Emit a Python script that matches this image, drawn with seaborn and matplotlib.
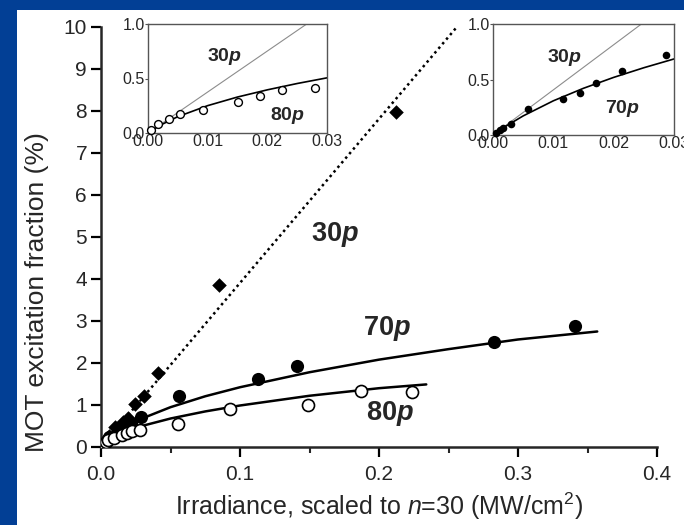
import matplotlib
matplotlib.use("Agg")
import matplotlib.pyplot as plt
import seaborn as sns
from matplotlib.patches import Rectangle
from matplotlib.ticker import MultipleLocator, FixedLocator

# =============================
# DATA
# irradiance scaled to n=30 (MW/cm^2) vs MOT excitation fraction (%)
# =============================
x_30p = [0.0055, 0.0101, 0.0155, 0.0197, 0.0245, 0.031, 0.0412, 0.0849, 0.212]
y_30p = [0.26, 0.48, 0.59, 0.68, 1.03, 1.21, 1.76, 3.86, 7.98]

x_70p = [0.00055, 0.0011, 0.0017, 0.003, 0.0058, 0.0116, 0.0144, 0.0171,
         0.0214, 0.0286, 0.0564, 0.113, 0.141, 0.283, 0.341]
y_70p = [0.02, 0.045, 0.06, 0.10, 0.23, 0.32, 0.38, 0.47,
         0.58, 0.72, 1.21, 1.63, 1.94, 2.51, 2.89]

x_80p = [0.00056, 0.0017, 0.0035, 0.0053, 0.0093, 0.015, 0.0187, 0.0225,
         0.028, 0.0556, 0.0928, 0.149, 0.187, 0.224]
y_80p = [0.03, 0.08, 0.13, 0.17, 0.21, 0.28, 0.34, 0.39,
         0.41, 0.54, 0.90, 1.00, 1.33, 1.30]

# fitted curves (traced)
line_x_30p = [0, 0.256]
line_y_30p = [0, 10]
inset_line_x_left = [0, 0.0266]
inset_line_x_right = [0, 0.0246]
inset_line_y = [0, 1.0]

fit_x_70p = [0, 0.002, 0.005, 0.01, 0.015, 0.02, 0.025, 0.03, 0.05, 0.075,
             0.1, 0.15, 0.2, 0.25, 0.3, 0.357]
fit_y_70p = [0, 0.075, 0.172, 0.308, 0.421, 0.519, 0.606, 0.685, 0.948, 1.208,
             1.423, 1.78, 2.08, 2.33, 2.56, 2.75]

fit_x_80p = [0, 0.002, 0.005, 0.01, 0.015, 0.02, 0.025, 0.03, 0.05, 0.075,
             0.1, 0.15, 0.2, 0.234]
fit_y_80p = [0, 0.070, 0.150, 0.251, 0.330, 0.396, 0.454, 0.506, 0.678, 0.847,
             0.988, 1.22, 1.40, 1.49]

x_ticks = [0.0, 0.1, 0.2, 0.3, 0.4]
x_ticklabels = ["0.0", "0.1", "0.2", "0.3", "0.4"]
y_ticks = list(range(0, 11))
inset_x_ticks = [0.0, 0.01, 0.02, 0.03]
inset_x_ticklabels = ["0.00", "0.01", "0.02", "0.03"]
inset_y_ticks = [0.0, 0.5, 1.0]
inset_y_ticklabels = ["0.0", "0.5", "1.0"]

BLUE = "#023f95"

# =============================
# STYLE
# =============================
sns.set_style("ticks")
plt.rcParams["font.family"] = ["Liberation Sans", "DejaVu Sans"]
plt.rcParams["mathtext.fontset"] = "custom"
plt.rcParams["mathtext.rm"] = "Liberation Sans"
plt.rcParams["mathtext.it"] = "Liberation Sans:italic"
plt.rcParams["mathtext.bf"] = "Liberation Sans:bold"
plt.rcParams["mathtext.bfit"] = "Liberation Sans:bold:italic"

fig = plt.figure(figsize=(6.84, 5.25), dpi=100, facecolor=BLUE)
fig.patches.append(Rectangle((17 / 684, 0), 1, 1 - 10 / 525,
                             transform=fig.transFigure, facecolor="white",
                             edgecolor="none", zorder=-5))

# =============================
# MAIN AXES
# =============================
ax = fig.add_axes([101 / 684, 78 / 525, 556 / 684, 420 / 525])
ax.set_facecolor("none")

sns.lineplot(x=line_x_30p, y=line_y_30p, ax=ax, color="black", lw=1.8,
             linestyle=(0, (1, 1.4)), estimator=None, sort=False)
sns.lineplot(x=fit_x_70p, y=fit_y_70p, ax=ax, color="black", lw=1.8,
             estimator=None, sort=False)
sns.lineplot(x=fit_x_80p, y=fit_y_80p, ax=ax, color="black", lw=1.8,
             estimator=None, sort=False)

sns.scatterplot(x=x_30p, y=y_30p, ax=ax, marker="D", s=55, color="black",
                linewidth=0, zorder=3)
sns.scatterplot(x=x_70p, y=y_70p, ax=ax, marker="o", s=90, color="black",
                linewidth=0, zorder=3)
sns.scatterplot(x=x_80p, y=y_80p, ax=ax, marker="o", s=75, color="white",
                edgecolor="black", linewidth=1.2, zorder=3)

ax.set_xlim(0, 0.4)
ax.set_ylim(0, 10)
ax.xaxis.set_major_locator(FixedLocator(x_ticks))
ax.set_xticklabels(x_ticklabels)
ax.xaxis.set_minor_locator(MultipleLocator(0.05))
ax.set_yticks(y_ticks)
sns.despine(ax=ax)
for s in ["left", "bottom"]:
    ax.spines[s].set_linewidth(1.8)
ax.tick_params(axis="both", which="major", direction="out", length=7,
               width=1.6, labelsize=15, pad=3, color="black")
ax.tick_params(axis="x", which="minor", direction="out", length=4, width=1.5)
ax.tick_params(axis="x", pad=6)

ax.set_xlabel("Irradiance, scaled to $n$=30 (MW/cm$^2$)", fontsize=18)
ax.set_ylabel("MOT excitation fraction (%)", fontsize=19)
ax.xaxis.set_label_coords(0.5, -0.104)
ax.yaxis.set_label_coords(-0.093, 0.37)

ax.text(0.168, 5.05, r"$\mathbf{30}\mathbfit{p}$", fontsize=19.5,
        ha="center", va="center")
ax.text(0.206, 2.83, r"$\mathbf{70}\mathbfit{p}$", fontsize=19.5,
        ha="center", va="center")
ax.text(0.208, 0.79, r"$\mathbf{80}\mathbfit{p}$", fontsize=19.5,
        ha="center", va="center")


# =============================
# INSETS
# =============================
def make_inset(rect, line_x, fit_x, fit_y, xs, ys, filled, lab, lab_pos,
               lab30_pos):
    a = fig.add_axes(rect)
    a.set_facecolor("white")
    sns.lineplot(x=line_x, y=inset_line_y, ax=a, color="#8c8c8c", lw=0.8,
                 estimator=None, sort=False)
    sns.lineplot(x=fit_x, y=fit_y, ax=a, color="black", lw=1.2,
                 estimator=None, sort=False)
    if filled:
        sns.scatterplot(x=xs, y=ys, ax=a, marker="o", s=30, color="black",
                        linewidth=0, zorder=3, clip_on=False)
    else:
        sns.scatterplot(x=xs, y=ys, ax=a, marker="o", s=32, color="white",
                        edgecolor="black", linewidth=1.0, zorder=3,
                        clip_on=False)
    a.set_xlim(0, 0.03)
    a.set_ylim(0, 1.0)
    a.set_xticks(inset_x_ticks)
    a.set_xticklabels(inset_x_ticklabels)
    a.set_yticks(inset_y_ticks)
    a.set_yticklabels(inset_y_ticklabels)
    for s in a.spines.values():
        s.set_color("#555555")
        s.set_linewidth(1.0)
    a.tick_params(axis="y", direction="out", length=2.5, width=0.8,
                  labelsize=11.5, pad=0, color="#555555")
    a.tick_params(axis="x", direction="out", length=0, labelsize=11.5, pad=0.5)
    a.text(lab30_pos[0], lab30_pos[1], r"$\mathbf{30}\mathbfit{p}$",
           fontsize=14, ha="center", va="center")
    a.text(lab_pos[0], lab_pos[1], lab, fontsize=14, ha="center",
           va="center")
    return a


inset_mask_80 = [v <= 0.03 for v in x_80p]
inset_mask_70 = [v <= 0.03 for v in x_70p]

make_inset([148 / 684, 392 / 525, 179 / 684, 109 / 525],
           inset_line_x_left, fit_x_80p, fit_y_80p,
           [v for v, m in zip(x_80p, inset_mask_80) if m],
           [v for v, m in zip(y_80p, inset_mask_80) if m],
           False, r"$\mathbf{80}\mathbfit{p}$", (0.0233, 0.165),
           (0.0129, 0.70))

make_inset([493 / 684, 390 / 525, 181 / 684, 111 / 525],
           inset_line_x_right, fit_x_70p, fit_y_70p,
           [v for v, m in zip(x_70p, inset_mask_70) if m],
           [v for v, m in zip(y_70p, inset_mask_70) if m],
           True, r"$\mathbf{70}\mathbfit{p}$", (0.0215, 0.243),
           (0.0119, 0.694))

fig.savefig("out.png", dpi=100, facecolor=BLUE)
